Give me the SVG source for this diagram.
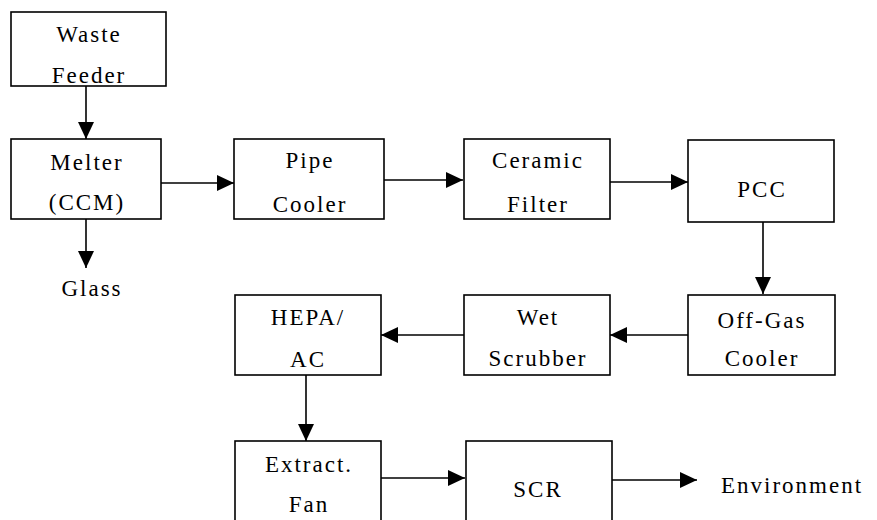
<svg xmlns="http://www.w3.org/2000/svg" width="877" height="520" viewBox="0 0 877 520">
<style>
.box{fill:#fff;stroke:#000;stroke-width:1.6}
.t{font-family:'Liberation Serif','Times New Roman',serif;font-size:23px;letter-spacing:2px;fill:#000;text-anchor:middle}
.e{text-anchor:start}
.c{stroke:#000;stroke-width:1.6;fill:none;marker-end:url(#ah)}
</style>
<defs>
<marker id="ah" markerUnits="userSpaceOnUse" markerWidth="18" markerHeight="16" refX="17" refY="8" orient="auto">
<path d="M0,0 L17,8 L0,16 Z" fill="#000"/>
</marker>
</defs>
<rect width="877" height="520" fill="#fff"/>
<g id="connectors">
<line class="c" x1="86" y1="86" x2="86" y2="139"/>
<line class="c" x1="161" y1="183" x2="234" y2="183"/>
<line class="c" x1="86" y1="219" x2="86" y2="268"/>
<line class="c" x1="384" y1="180" x2="463" y2="180"/>
<line class="c" x1="610" y1="182" x2="688" y2="182"/>
<line class="c" x1="763" y1="222" x2="763" y2="294"/>
<line class="c" x1="688" y1="335" x2="610" y2="335"/>
<line class="c" x1="464" y1="335" x2="381" y2="335"/>
<line class="c" x1="306" y1="375" x2="306" y2="441"/>
<line class="c" x1="381" y1="478" x2="465" y2="478"/>
<line class="c" x1="612" y1="480" x2="697" y2="480"/>
</g>
<g id="waste-feeder"><rect class="box" x="11" y="12" width="155" height="74"/><text class="t" x="89" y="42">Waste</text><text class="t" x="89" y="83">Feeder</text></g>
<g id="melter"><rect class="box" x="11" y="139" width="150" height="80"/><text class="t" x="87" y="170">Melter</text><text class="t" x="87" y="210">(CCM)</text></g>
<g id="glass"><text class="t" x="92" y="296">Glass</text></g>
<g id="pipe-cooler"><rect class="box" x="234" y="139" width="150" height="80"/><text class="t" x="310" y="168">Pipe</text><text class="t" x="310" y="212">Cooler</text></g>
<g id="ceramic-filter"><rect class="box" x="464" y="139" width="146" height="80"/><text class="t" x="538" y="168">Ceramic</text><text class="t" x="538" y="212">Filter</text></g>
<g id="pcc"><rect class="box" x="688" y="140" width="146" height="82"/><text class="t" x="762" y="197">PCC</text></g>
<g id="off-gas-cooler"><rect class="box" x="688" y="295" width="147" height="80"/><text class="t" x="762" y="328">Off-Gas</text><text class="t" x="762" y="366">Cooler</text></g>
<g id="wet-scrubber"><rect class="box" x="464" y="295" width="146" height="80"/><text class="t" x="538" y="325">Wet</text><text class="t" x="538" y="366">Scrubber</text></g>
<g id="hepa-ac"><rect class="box" x="235" y="295" width="146" height="80"/><text class="t" x="308" y="325">HEPA/</text><text class="t" x="308" y="367">AC</text></g>
<g id="extract-fan"><rect class="box" x="235" y="441" width="146" height="90"/><text class="t" x="309" y="472">Extract.</text><text class="t" x="309" y="512">Fan</text></g>
<g id="scr"><rect class="box" x="466" y="441" width="146" height="90"/><text class="t" x="538" y="497">SCR</text></g>
<g id="environment"><text class="t e" x="721" y="493">Environment</text></g>
</svg>
